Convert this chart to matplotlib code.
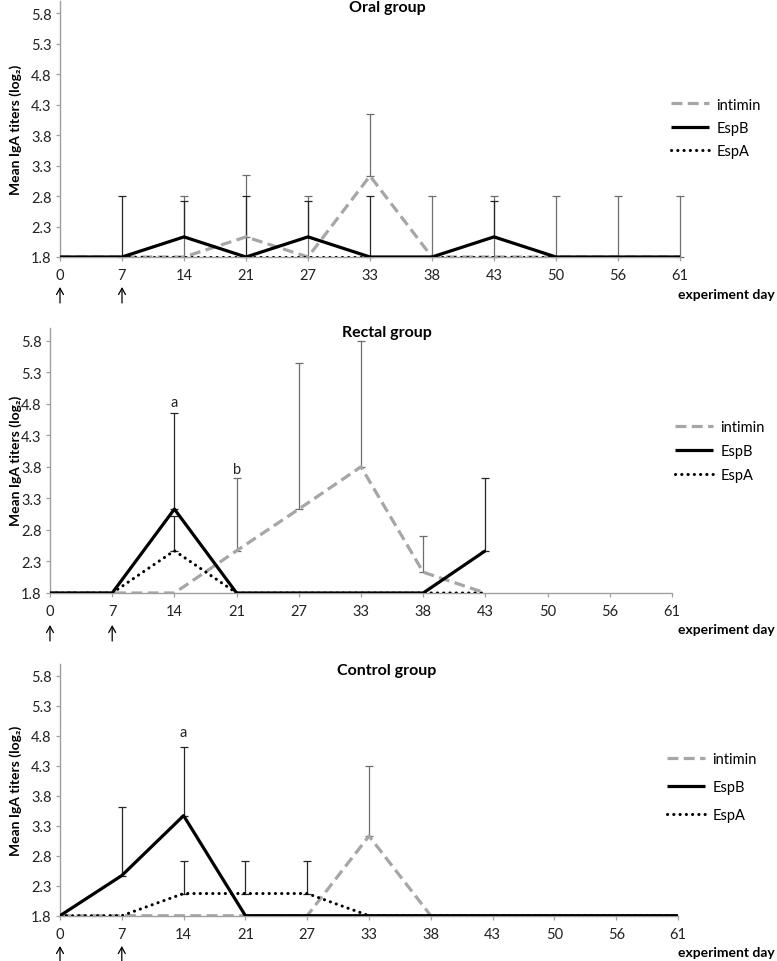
import numpy as np
import matplotlib
matplotlib.use("Agg")
import matplotlib.pyplot as plt

nan = np.nan
days = ["0", "7", "14", "21", "27", "33", "38", "43", "50", "56", "61"]
y_ticks = [1.8, 2.3, 2.8, 3.3, 3.8, 4.3, 4.8, 5.3, 5.8]
series_names = ["intimin", "EspB", "EspA"]
titles = ["Oral group", "Rectal group", "Control group"]

# Oral group
oral_intimin = [1.8, 1.8, 1.8, 2.13, 1.8, 3.13, 1.8, 1.8, 1.8, 1.8, 1.8]
oral_espb = [1.8, 1.8, 2.13, 1.8, 2.13, 1.8, 1.8, 2.13, 1.8, 1.8, 1.8]
oral_espa = [1.8, 1.8, 1.8, 1.8, 1.8, 1.8, 1.8, 1.8, 1.8, 1.8, 1.8]
oral_intimin_err = [nan, nan, 1.0, 1.01, 1.0, 1.01, 1.0, 1.0, 1.0, 1.0, 1.0]
oral_espb_err = [nan, 1.0, 0.59, 1.0, 0.59, 1.0, nan, 0.59, nan, nan, nan]
oral_espa_err = [nan] * 11

# Rectal group
rectal_intimin = [1.8, 1.8, 1.8, 2.47, 3.13, 3.8, 2.13, 1.8, nan, nan, nan]
rectal_espb = [1.8, 1.8, 3.13, 1.8, 1.8, 1.8, 1.8, 2.47, nan, nan, nan]
rectal_espa = [1.8, 1.8, 2.47, 1.8, 1.8, 1.8, 1.8, 1.8, nan, nan, nan]
rectal_intimin_err = [nan, nan, nan, 1.15, 2.32, 2.0, 0.58, nan, nan, nan, nan]
rectal_espb_err = [nan, nan, 1.53, nan, nan, nan, nan, 1.15, nan, nan, nan]
rectal_espa_err = [nan, nan, 0.55, nan, nan, nan, nan, nan, nan, nan, nan]

# Control group
control_intimin = [1.8, 1.8, 1.8, 1.8, 1.8, 3.13, 1.8, 1.8, 1.8, 1.8, 1.8]
control_espb = [1.8, 2.47, 3.47, 1.8, 1.8, 1.8, 1.8, 1.8, 1.8, 1.8, 1.8]
control_espa = [1.8, 1.8, 2.17, 2.17, 2.17, 1.8, 1.8, 1.8, 1.8, 1.8, 1.8]
control_intimin_err = [nan, nan, nan, nan, nan, 1.16, nan, nan, nan, nan, nan]
control_espb_err = [nan, 1.15, 1.15, nan, nan, nan, nan, nan, nan, nan, nan]
control_espa_err = [nan, nan, 0.55, 0.55, 0.55, nan, nan, nan, nan, nan, nan]

# significance letters: (panel, day index, y, letter)
sig_letters = [(1, 2, 4.82, "a"), (1, 3, 3.76, "b"), (2, 2, 4.87, "a")]
# immunisation days marked with arrows (indices into days)
arrow_days = [0, 1]

panels = [
    (oral_intimin, oral_espb, oral_espa, oral_intimin_err, oral_espb_err, oral_espa_err),
    (rectal_intimin, rectal_espb, rectal_espa, rectal_intimin_err, rectal_espb_err, rectal_espa_err),
    (control_intimin, control_espb, control_espa, control_intimin_err, control_espb_err, control_espa_err),
]

plt.rcParams['font.family'] = ['Lato', 'DejaVu Sans']
W, H = 777, 962
fig = plt.figure(figsize=(W / 100, H / 100), dpi=100)

# layout in pixels: (left, right, bottom(1.8), top(6.0))
boxes = [(60, 680, 258, 2), (50, 672, 594, 329), (60, 678, 916.7, 665)]
title_y = [8, 333, 671]
xlabel_y = [295, 630, 953]
arrow_top = [288, 626, 947]
ylabel_y = [130, 461, 791]
legend_pos = [(671, 129, 0.65), (675, 452, 0.7), (667, 788, 0.95)]

axis_col = "#A0A0A0"
grey = "#A6A6A6"
fs = 10.5

for i, (vals, box) in enumerate(zip(panels, boxes)):
    l, r, b, t = box
    ax = fig.add_axes([l / W, 1 - b / H, (r - l) / W, (b - t) / H])
    x = np.arange(len(days))
    inti, espb, espa, e_inti, e_espb, e_espa = vals
    for y, e, col in [(inti, e_inti, "#6E6E6E"), (espb, e_espb, "#262626"), (espa, e_espa, "#262626")]:
        y = np.array(y, float)
        e = np.array(e, float)
        m = ~np.isnan(e)
        if m.any():
            eb = ax.errorbar(x[m], y[m], yerr=[np.zeros(m.sum()), e[m]], fmt='none',
                             ecolor=col, elinewidth=0.9, capsize=2.6, capthick=0.9, zorder=2)
            for art in eb.lines[1] + eb.lines[2]:
                art.set_clip_on(False)
    h1, = ax.plot(x, inti, color=grey, lw=2.3, linestyle=(0, (3.4, 1.7)), zorder=3)
    h2, = ax.plot(x, espb, color="black", lw=2.3, zorder=4, solid_capstyle='butt')
    h3, = ax.plot(x, espa, color="black", lw=2.2, linestyle=(0, (0.05, 2.0)),
                  dash_capstyle='round', zorder=5)

    ax.set_xlim(0, len(days) - 1)
    ax.set_ylim(1.8, 6.0)
    ax.set_xticks(x)
    ax.set_xticklabels(days)
    ax.set_yticks(y_ticks)
    ax.set_yticklabels([f"{v:.1f}" for v in y_ticks])
    ax.tick_params(axis='both', labelsize=fs, colors=axis_col, labelcolor="#222222",
                   length=3, width=0.9, direction='out')
    ax.tick_params(axis='x', pad=5)
    ax.tick_params(axis='y', pad=3)
    for s in ["top", "right"]:
        ax.spines[s].set_visible(False)
    for s in ["left", "bottom"]:
        ax.spines[s].set_color(axis_col)
        ax.spines[s].set_linewidth(1.0)
    ax.patch.set_alpha(0)

    for (p, di, yy, letter) in sig_letters:
        if p == i:
            ax.text(di, yy, letter, ha='center', va='center', fontsize=fs, color="#222222")

    fig.text(387 / W, 1 - title_y[i] / H, titles[i], ha='center', va='center',
             fontsize=11.5, fontweight='bold')
    fig.text(775 / W, 1 - xlabel_y[i] / H, "experiment day", ha='right', va='center',
             fontsize=10, fontweight='bold')
    fig.text(16 / W, 1 - ylabel_y[i] / H, "Mean IgA titers (log₂)", ha='center', va='center',
             rotation=90, fontsize=10, fontweight='bold')
    # immunisation arrows below the tick labels
    trans = ax.get_xaxis_transform()
    for d in arrow_days:
        y_top = 1 - (arrow_top[i] - t) / (b - t) * 1.0
        ytop_ax = (b - arrow_top[i]) / (b - t)
        ybot_ax = (b - arrow_top[i] - 16) / (b - t)
        ax.annotate("", xy=(d, -(arrow_top[i] - b) / (b - t)), xytext=(d, -(arrow_top[i] + 16 - b) / (b - t)),
                    xycoords=trans, textcoords=trans, annotation_clip=False,
                    arrowprops=dict(arrowstyle='->,head_length=0.45,head_width=0.25',
                                    lw=0.9, color='black', shrinkA=0, shrinkB=0))

    lx, ly, sp = legend_pos[i]
    fig.legend(handles=[h1, h2, h3], labels=series_names, loc='center left',
               bbox_to_anchor=(lx / W, 1 - ly / H), frameon=False, fontsize=fs,
               handlelength=2.6, handletextpad=0.5, labelspacing=sp,
               borderpad=0, borderaxespad=0)

fig.savefig("out.png", dpi=100)
